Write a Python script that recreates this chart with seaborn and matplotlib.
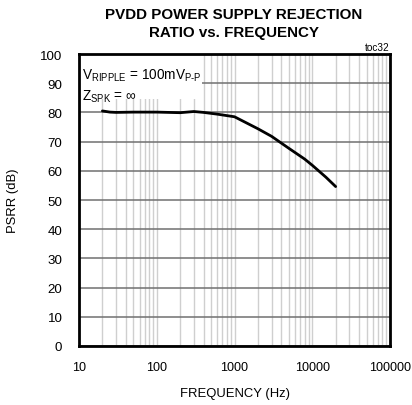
import matplotlib
matplotlib.use("Agg")
import matplotlib.pyplot as plt
from matplotlib.patches import Rectangle
from matplotlib.ticker import FixedLocator, LogLocator, NullFormatter
import seaborn as sns
import pandas as pd

# PSRR measured on the PVDD supply
freq_hz = [20, 25, 30, 50, 100, 200, 300, 400, 600, 1000, 2000, 3000, 5000, 8000, 10000, 15000, 20000]
psrr_db = [80.5, 80.1, 80.0, 80.1, 80.1, 79.9, 80.3, 80.0, 79.4, 78.5, 74.4, 71.8, 67.7, 64.0, 61.9, 57.8, 54.6]

x_ticks = [10, 100, 1000, 10000, 100000]
x_tick_labels = ["10", "100", "1000", "10000", "100000"]
y_ticks = [0, 10, 20, 30, 40, 50, 60, 70, 80, 90, 100]

title = "PVDD POWER SUPPLY REJECTION\nRATIO vs. FREQUENCY"
x_label = "FREQUENCY (Hz)"
y_label = "PSRR (dB)"
chart_id = "toc32"
cond_lines = [r"V$_\mathregular{RIPPLE}$ = 100mV$_\mathregular{P\text{-}P}$",
              r"Z$_\mathregular{SPK}$ = ∞"]

sns.set_style("white")
plt.rcParams["font.family"] = ["Liberation Sans", "DejaVu Sans"]
plt.rcParams["mathtext.fontset"] = "custom"
plt.rcParams["mathtext.rm"] = "Liberation Sans"
plt.rcParams["text.color"] = "black"
plt.rcParams["axes.labelcolor"] = "black"

df = pd.DataFrame({"freq": freq_hz, "psrr": psrr_db})

fig = plt.figure(figsize=(4.12, 4.06), dpi=100)
ax = fig.add_axes([79 / 412, 1 - 347 / 406, 311 / 412, 292 / 406])

ax.set_xscale("log")
ax.set_xlim(10, 100000)
ax.set_ylim(0, 100)

# grid: light vertical lines at every 1-2-...-9 step, darker horizontal lines
ax.xaxis.set_major_locator(FixedLocator(x_ticks))
ax.xaxis.set_minor_locator(LogLocator(base=10, subs=range(2, 10)))
ax.xaxis.set_minor_formatter(NullFormatter())
ax.set_xticks(x_ticks)
ax.set_xticklabels(x_tick_labels)
ax.set_yticks(y_ticks)
ax.set_axisbelow(True)
ax.grid(axis="x", which="both", color="#cfcfcf", linewidth=1.0)
ax.grid(axis="y", which="major", color="#707070", linewidth=1.1)

sns.lineplot(data=df, x="freq", y="psrr", ax=ax, color="black", linewidth=2.0, zorder=3)

ax.tick_params(axis="both", which="both", length=0, labelsize=9.6, colors="black")
ax.tick_params(axis="x", pad=11)
ax.tick_params(axis="y", pad=12)
ax.set_xticklabels(x_tick_labels, fontsize=9.1)
for s in ax.spines.values():
    s.set_color("black")
    s.set_linewidth(2.0)

ax.set_xlabel(x_label, fontsize=9.4, labelpad=10)
ax.set_ylabel(y_label, fontsize=9.4, labelpad=15)

# white panel behind the test conditions
ax.add_patch(Rectangle((0, 0.846), 0.395, 0.154, transform=ax.transAxes,
                       facecolor="white", edgecolor="none", zorder=1.5))
ax.text(0.011, 0.928, cond_lines[0], transform=ax.transAxes, fontsize=9.8,
        va="center", ha="left", zorder=4)
ax.text(0.011, 0.858, cond_lines[1], transform=ax.transAxes, fontsize=9.8,
        va="center", ha="left", zorder=4)

fig.text(389 / 412, 1 - 48 / 406, chart_id, fontsize=7.2, ha="right", va="center")
fig.text(234 / 412, 1 - 24 / 406, title, fontsize=10.9, fontweight="bold",
         ha="center", va="center", linespacing=1.3)

sns.despine(ax=ax, top=False, right=False)
fig.savefig("out.png", dpi=100)
